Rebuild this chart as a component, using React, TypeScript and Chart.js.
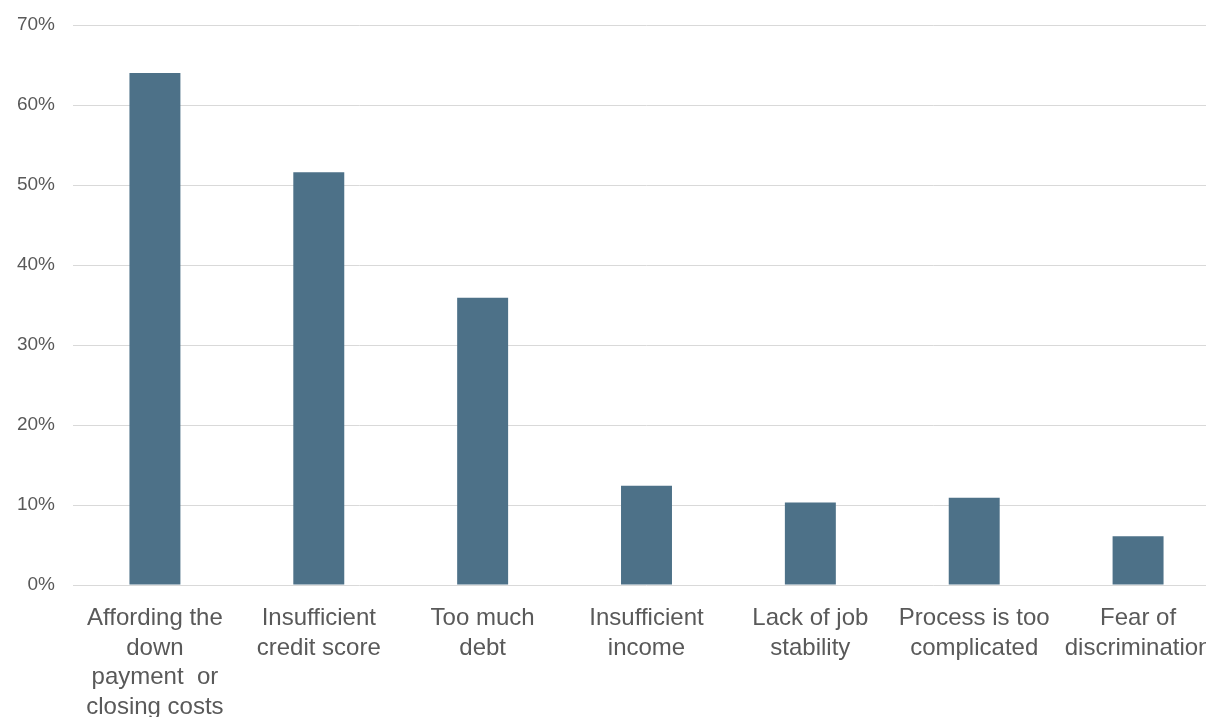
import React, { useEffect, useRef } from "react";
import { Chart, registerables } from "chart.js";

Chart.register(...registerables);

const categories: string[][] = [
  ["Affording the", "down", "payment  or", "closing costs"],
  ["Insufficient", "credit score"],
  ["Too much", "debt"],
  ["Insufficient", "income"],
  ["Lack of job", "stability"],
  ["Process is too", "complicated"],
  ["Fear of", "discrimination"],
];

const values: number[] = [64.0, 51.6, 35.9, 12.4, 10.3, 10.9, 6.1];

const yTicks: number[] = [0, 10, 20, 30, 40, 50, 60, 70];

const BAR_COLOR = "#4D7188";
const TEXT_COLOR = "#595959";
const GRID_COLOR = "#D9D9D9";
const FONT = "'Liberation Sans', Arial, sans-serif";

export default function App() {
  const ref = useRef<HTMLCanvasElement | null>(null);

  useEffect(() => {
    if (!ref.current) return;
    const chart = new Chart(ref.current, {
      type: "bar",
      data: {
        labels: categories,
        datasets: [
          {
            data: values,
            backgroundColor: BAR_COLOR,
            borderWidth: 0,
            categoryPercentage: 1,
            barPercentage: 0.311,
          },
        ],
      },
      options: {
        responsive: false,
        animation: false,
        layout: { padding: { top: 25, left: 0, right: 0, bottom: 0 } },
        plugins: {
          legend: { display: false },
          tooltip: { enabled: false },
          title: { display: false },
        },
        scales: {
          x: {
            offset: true,
            grid: { display: false, drawTicks: false },
            border: { display: false },
            ticks: {
              autoSkip: false,
              maxRotation: 0,
              minRotation: 0,
              padding: 19,
              color: TEXT_COLOR,
              font: { family: FONT, size: 24, lineHeight: 1.23 },
            },
            afterFit: (scale: any) => {
              scale.height = 132;
              scale.paddingLeft = 0;
              scale.paddingRight = 0;
            },
          },
          y: {
            min: 0,
            max: 70,
            afterBuildTicks: (scale: any) => {
              scale.ticks = yTicks.map((v) => ({ value: v }));
            },
            grid: { color: GRID_COLOR, lineWidth: 1, drawTicks: false },
            border: { display: false },
            ticks: {
              padding: 18,
              color: TEXT_COLOR,
              font: { family: FONT, size: 19 },
              callback: (v: any) => `${v}%`,
            },
            afterFit: (scale: any) => {
              scale.width = 73;
              scale.paddingTop = 0;
              scale.paddingBottom = 0;
            },
          },
        },
      },
    });
    return () => chart.destroy();
  }, []);

  return (
    <div
      style={{
        position: "fixed",
        left: 0,
        top: 0,
        width: 1206,
        height: 717,
        overflow: "hidden",
        background: "#fff",
      }}
    >
      <canvas ref={ref} width={1220} height={717} style={{ display: "block" }} />
    </div>
  );
}
